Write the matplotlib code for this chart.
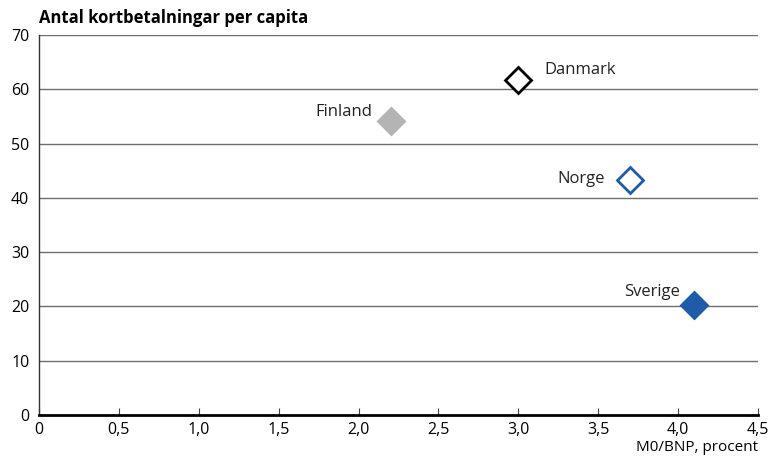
import matplotlib.pyplot as plt

plt.rcParams['font.family'] = ['Open Sans', 'DejaVu Sans']

countries = ['Danmark', 'Finland', 'Norge', 'Sverige']
m0_bnp = [3.0, 2.2, 3.7, 4.1]
kortbet = [61.8, 54.1, 43.3, 20.3]
face = ['white', '#b4b4b4', 'white', '#1f5ba8']
edge = ['black', '#b4b4b4', '#1f5ba8', '#1f5ba8']
# label offsets in points, and alignment
offs = [(19, 7), (-13, 7), (-18, 1), (-10, 9)]
ha = ['left', 'right', 'right', 'right']

xticks = [0, 0.5, 1.0, 1.5, 2.0, 2.5, 3.0, 3.5, 4.0, 4.5]
xlabels = ['0', '0,5', '1,0', '1,5', '2,0', '2,5', '3,0', '3,5', '4,0', '4,5']
yticks = [0, 10, 20, 30, 40, 50, 60, 70]

fig = plt.figure(figsize=(7.73, 4.62), dpi=100)
ax = fig.add_axes([0.0505, 0.1017, 0.9301, 0.8225])

for y in yticks[1:]:
    ax.axhline(y, color='#6e6e6e', lw=1.0, zorder=1)

for i, c in enumerate(countries):
    ax.plot(m0_bnp[i], kortbet[i], 'D', ms=13, mfc=face[i], mec=edge[i],
            mew=2.0, zorder=3, clip_on=False)
    ax.annotate(c, (m0_bnp[i], kortbet[i]), xytext=offs[i], textcoords='offset points',
                ha=ha[i], va='center', fontsize=12, color='#222222')

ax.set_xlim(0, 4.5)
ax.set_ylim(0, 70)
ax.set_xticks(xticks)
ax.set_xticklabels(xlabels, fontsize=11.5)
ax.set_yticks(yticks)
ax.set_yticklabels([str(v) for v in yticks], fontsize=11.5)
ax.tick_params(axis='x', direction='in', length=5, width=0.8, pad=5, color='#444444')
ax.tick_params(axis='y', length=0, pad=7)

ax.spines['right'].set_visible(False)
ax.spines['top'].set_visible(False)
ax.spines['left'].set_color('#333333')
ax.spines['left'].set_linewidth(1.0)
ax.spines['bottom'].set_linewidth(2.0)
ax.spines['bottom'].set_color('black')

fig.text(0.0505, 0.962, 'Antal kortbetalningar per capita', fontsize=12, fontweight='bold',
         va='center', ha='left')
fig.text(0.9806, 0.015, 'M0/BNP, procent', fontsize=11, ha='right', va='bottom')

fig.savefig('out.png', dpi=100)
